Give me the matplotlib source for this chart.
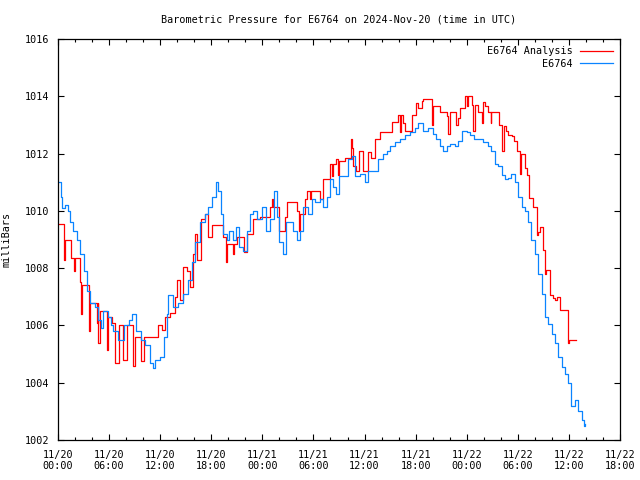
import pandas as pd
import matplotlib
matplotlib.use("Agg")
import matplotlib.pyplot as plt
import matplotlib.dates as mdates

# station readings: hours after 2024-11-20 00:00 UTC, pressure in mb
obs_hours = [
    0.0, 0.1, 0.3, 0.47, 0.8, 1.2, 1.4, 1.8, 2.2, 2.6, 3.0, 3.4, 3.8, 4.3, 4.7,
    5.0, 5.3, 5.9, 6.2, 6.5, 7.1, 7.7, 8.3, 8.7, 9.2, 9.8, 10.2, 10.8, 11.1,
    11.4, 12.0, 12.4, 12.8, 12.95, 13.5, 14.1, 14.7, 15.3, 15.7, 16.1, 16.7,
    17.3, 17.65, 18.05, 18.5, 18.8, 19.1, 19.4, 19.8, 20.1, 20.5, 20.9, 21.3,
    21.75, 22.15, 22.55, 22.85, 23.35, 23.9, 24.4, 24.9, 25.35, 25.7, 26.0,
    26.4, 26.8, 27.25, 27.65, 28.05, 28.4, 28.8, 29.4, 29.8, 30.2, 30.75,
    31.15, 31.55, 31.95, 32.35, 32.7, 33.05, 33.5, 34.1, 34.5, 34.9, 35.45,
    36.05, 36.45, 37.0, 37.6, 38.2, 38.6, 39.0, 39.6, 40.15, 40.75, 41.35,
    41.9, 42.3, 42.9, 43.5, 44.05, 44.45, 44.85, 45.25, 45.65, 46.05, 46.6,
    47.0, 47.4, 48.0, 48.4, 48.8, 49.35, 49.9, 50.5, 50.9, 51.3, 51.7, 52.1,
    52.5, 52.9, 53.15, 53.65, 54.05, 54.45, 54.85, 55.25, 55.6, 56.0, 56.4,
    56.8, 57.2, 57.6, 58.0, 58.35, 58.75, 59.15, 59.55, 59.95, 60.3, 60.7,
    61.1, 61.5, 61.8, 61.9,
]
obs_mb = [
    1011.0, 1011.0, 1010.5, 1010.1, 1010.2, 1010.0, 1009.6, 1009.3, 1009.0,
    1008.5, 1007.9, 1007.2, 1006.8, 1006.65, 1006.2, 1005.9, 1006.5, 1006.3,
    1006.0, 1005.8, 1005.5, 1006.0, 1006.2, 1006.4, 1005.8, 1005.5, 1005.3,
    1004.7, 1004.5, 1004.8, 1004.9, 1005.6, 1006.4, 1007.05, 1006.65, 1006.8,
    1007.1, 1007.6, 1008.2, 1008.9, 1009.6, 1009.9, 1010.15, 1010.5, 1011.0,
    1010.7, 1009.9, 1009.2, 1009.0, 1009.3, 1009.0, 1009.45, 1008.75, 1008.6,
    1009.3, 1009.9, 1010.0, 1009.7, 1010.15, 1009.3, 1009.7, 1010.7, 1009.8,
    1008.9, 1008.5, 1009.6, 1009.6, 1009.3, 1009.0, 1009.3, 1010.15, 1009.9,
    1010.4, 1010.3, 1010.4, 1010.15, 1010.5, 1011.1, 1010.85, 1010.6, 1011.2,
    1011.2, 1011.8, 1011.9, 1011.2, 1011.3, 1011.0, 1011.4, 1011.4, 1011.8,
    1012.0, 1012.1, 1012.25, 1012.4, 1012.5, 1012.65, 1012.75, 1012.9,
    1013.05, 1012.8, 1012.9, 1012.7, 1012.5, 1012.25, 1012.1, 1012.25,
    1012.35, 1012.25, 1012.45, 1012.8, 1012.75, 1012.65, 1012.5, 1012.5,
    1012.4, 1012.25, 1012.1, 1011.65, 1011.55, 1011.25, 1011.1, 1011.15,
    1011.3, 1011.0, 1010.5, 1010.15, 1010.0, 1009.6, 1009.0, 1008.5, 1007.8,
    1007.1, 1006.3, 1006.05, 1005.7, 1005.4, 1004.9, 1004.55, 1004.3, 1004.0,
    1003.2, 1003.4, 1003.0, 1002.7, 1002.5, 1002.55,
]

# analysis values (stepped)
ana_hours = [
    0.0, 0.75, 0.85, 1.5, 1.9, 2.05, 2.6, 2.7, 2.85, 3.65, 3.75, 4.55, 4.65,
    4.75, 4.95, 5.7, 5.9, 6.3, 6.7, 7.2, 7.65, 8.05, 8.85, 9.05, 9.75, 10.15,
    11.8, 12.2, 12.55, 13.15, 13.75, 13.95, 14.35, 14.7, 15.1, 15.5, 15.8,
    16.1, 16.3, 16.85, 17.25, 17.65, 18.05, 19.4, 19.75, 19.8, 20.55, 20.65,
    21.0, 21.85, 22.15, 22.95, 23.7, 24.9, 25.1, 25.25, 26.0, 26.65, 26.95,
    28.05, 28.3, 28.4, 29.0, 29.2, 29.6, 29.7, 30.75, 31.15, 31.95, 32.15,
    32.35, 32.7, 32.85, 32.95, 33.7, 34.4, 34.5, 34.7, 35.05, 35.4, 35.8,
    36.45, 36.7, 37.2, 37.8, 39.2, 39.9, 40.15, 40.3, 40.5, 40.75, 41.55,
    42.05, 42.1, 42.3, 42.8, 42.9, 43.9, 44.05, 44.85, 45.65, 45.85, 46.05,
    46.75, 47.0, 47.2, 47.8, 48.0, 48.15, 48.6, 48.7, 48.95, 49.35, 49.8,
    49.95, 50.15, 50.55, 50.8, 50.9, 51.8, 52.1, 52.2, 52.4, 52.65, 52.9,
    53.3, 53.6, 53.9, 54.2, 54.3, 54.4, 54.8, 55.05, 55.35, 55.8, 56.2, 56.4,
    56.6, 57.0, 57.2, 57.35, 57.8, 58.15, 58.35, 58.6, 58.95, 59.85, 59.9,
    60.05, 60.8,
]
ana_mb = [
    1009.55, 1008.3, 1009.0, 1008.35, 1007.9, 1008.35, 1007.5, 1006.4, 1007.4,
    1005.8, 1006.8, 1006.1, 1006.8, 1005.4, 1006.5, 1005.15, 1006.3, 1006.1,
    1004.7, 1006.0, 1004.8, 1006.0, 1004.6, 1005.6, 1004.75, 1005.6, 1006.0,
    1005.85, 1006.3, 1006.45, 1007.0, 1007.6, 1006.9, 1008.05, 1007.9,
    1007.35, 1008.5, 1009.2, 1008.3, 1009.7, 1009.9, 1009.1, 1009.5, 1009.1,
    1008.2, 1008.85, 1008.5, 1008.85, 1009.1, 1008.55, 1009.2, 1009.7,
    1009.8, 1010.15, 1010.4, 1010.15, 1009.3, 1009.8, 1010.3, 1010.0, 1009.3,
    1009.9, 1010.4, 1010.7, 1010.4, 1010.7, 1010.4, 1011.1, 1011.65, 1011.2,
    1011.65, 1011.8, 1011.25, 1011.75, 1011.85, 1012.5, 1012.2, 1011.55,
    1011.4, 1012.1, 1011.4, 1012.05, 1011.85, 1012.5, 1012.75, 1013.1,
    1013.35, 1012.75, 1013.35, 1013.05, 1012.8, 1013.35, 1013.4, 1013.75,
    1013.6, 1013.85, 1013.9, 1013.0, 1013.65, 1013.45, 1013.3, 1012.7,
    1013.45, 1013.0, 1013.25, 1013.6, 1014.0, 1013.65, 1014.0, 1013.7,
    1012.8, 1013.7, 1013.45, 1013.05, 1013.8, 1013.65, 1013.45, 1013.05,
    1013.45, 1013.0, 1012.9, 1012.1, 1012.95, 1012.8, 1012.65, 1012.6,
    1012.45, 1012.1, 1012.05, 1011.3, 1012.0, 1011.5, 1011.25, 1010.45,
    1010.15, 1009.15, 1009.25, 1009.45, 1008.65, 1007.8, 1007.95, 1007.05,
    1006.95, 1006.9, 1007.0, 1006.55, 1006.0, 1005.4, 1005.5, 1005.5,
]

start = pd.Timestamp("2024-11-20 00:00")
obs_t = start + pd.to_timedelta(obs_hours, unit="h")
ana_t = start + pd.to_timedelta(ana_hours, unit="h")

plt.rcParams["font.family"] = ["DejaVu Sans Mono"]
plt.rcParams["font.size"] = 7.3

fig = plt.figure(figsize=(6.4, 4.8), dpi=100)
ax = fig.add_axes([58 / 640, 40 / 480, 562 / 640, 401 / 480])

ax.plot(ana_t, ana_mb, color="#ff0000", lw=0.9, drawstyle="steps-post",
        label="E6764 Analysis")
ax.plot(obs_t, obs_mb, color="#0a84ff", lw=0.9, drawstyle="steps-post",
        label="E6764")

ax.set_xlim(start, start + pd.Timedelta(hours=66))
ax.set_ylim(1002, 1016)
ax.set_yticks(range(1002, 1017, 2))
ax.xaxis.set_major_locator(mdates.HourLocator(byhour=[0, 6, 12, 18]))
ax.xaxis.set_minor_locator(mdates.HourLocator(interval=2))
ax.xaxis.set_major_formatter(mdates.DateFormatter("%m/%d\n%H:%M"))

ax.tick_params(which="both", direction="in", top=True, right=True,
               width=0.8, colors="black", labelsize=7.3)
ax.tick_params(which="major", length=4, pad=7)
ax.tick_params(which="minor", length=2)
ax.tick_params(axis="y", pad=6)
for s in ax.spines.values():
    s.set_linewidth(0.9)

ax.set_ylabel("milliBars", labelpad=10)
ax.set_title("Barometric Pressure for E6764 on 2024-Nov-20 (time in UTC)",
             fontsize=7.3, pad=12)

ax.legend(loc="upper right", frameon=False, markerfirst=False,
          handlelength=3.2, handletextpad=0.8, labelspacing=0.25,
          borderaxespad=0.3, fontsize=7.3)

fig.savefig("out.png", dpi=100)
